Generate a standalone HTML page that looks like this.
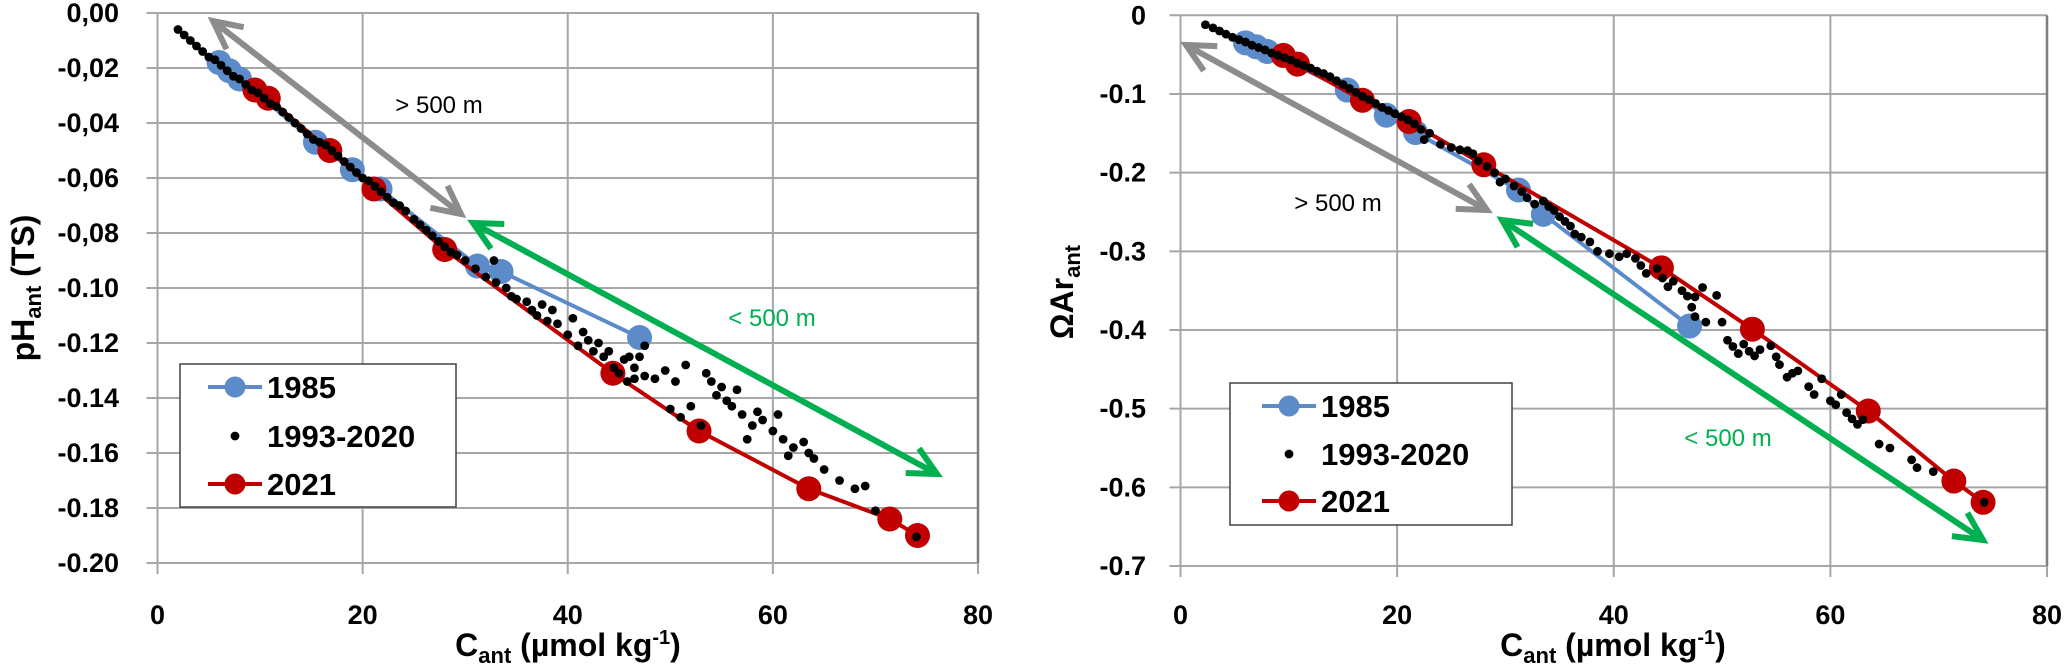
<!DOCTYPE html>
<html><head><meta charset="utf-8"><style>
html,body{margin:0;padding:0;background:#fff;}
svg{display:block;font-family:"Liberation Sans",Arial,sans-serif;}
</style></head><body>
<svg id="root" width="2067" height="671" viewBox="0 0 2067 671">
<g id="left"></g>
<g id="right"></g>
</svg>
<script>
const cantRed = [9.5,10.8,16.8,21.1,28.0,44.4,52.8,63.5,71.4,74.1];
const phRed = [-0.028,-0.031,-0.050,-0.064,-0.086,-0.131,-0.152,-0.173,-0.184,-0.190];
const omRed = [-0.051,-0.062,-0.108,-0.135,-0.190,-0.321,-0.399,-0.503,-0.592,-0.619];
const cantBlue = [6.0,7.0,8.0,15.4,19.0,21.7,31.2,33.5,47.0];
const phBlue = [-0.018,-0.021,-0.024,-0.047,-0.057,-0.064,-0.092,-0.094,-0.118];
const omBlue = [-0.035,-0.040,-0.046,-0.095,-0.127,-0.149,-0.222,-0.253,-0.395];
const phDotX = [2.0,2.6,3.2,3.8,4.4,5.0,5.6,6.2,6.8,7.4,8.0,8.6,9.2,9.8,10.4,11.0,11.6,12.2,12.8,13.4,14.0,14.6,15.2,15.8,16.4,17.0,17.6,18.2,18.8,19.4,20.0,20.6,21.2,21.8,22.4,23.0,23.6,24.2,25.0,25.6,26.2,26.8,27.4,28.0,28.6,29.2,30.0,31.0,32.0,32.8,33.0,34,34.5,35,36,36.5,37,37.5,38,38.5,39,40,40.5,41,41.5,42,42.5,43,43.5,44,44.5,45,45.5,46,46.5,47,47.5,45.8,46.5,47.5,48.5,49.5,50.5,51.5,52,53.5,54,54.5,55,55.5,56,56.5,57,58,58.5,59,60,60.5,61,62,63,63.5,64,65,66.5,68,69,70,74,53,51,50,57.5,61.5];
const phDotY = [-0.006,-0.008,-0.010,-0.012,-0.014,-0.016,-0.017,-0.019,-0.021,-0.023,-0.024,-0.026,-0.028,-0.029,-0.031,-0.033,-0.034,-0.036,-0.038,-0.040,-0.042,-0.044,-0.046,-0.047,-0.048,-0.050,-0.052,-0.054,-0.056,-0.058,-0.060,-0.061,-0.063,-0.065,-0.067,-0.069,-0.070,-0.072,-0.075,-0.077,-0.079,-0.081,-0.083,-0.085,-0.087,-0.088,-0.090,-0.093,-0.096,-0.090,-0.098,-0.100,-0.103,-0.104,-0.105,-0.108,-0.110,-0.106,-0.112,-0.108,-0.113,-0.117,-0.111,-0.121,-0.116,-0.119,-0.123,-0.120,-0.125,-0.123,-0.129,-0.131,-0.126,-0.125,-0.129,-0.125,-0.121,-0.134,-0.133,-0.132,-0.133,-0.130,-0.134,-0.128,-0.143,-0.131,-0.134,-0.139,-0.136,-0.141,-0.143,-0.137,-0.146,-0.150,-0.145,-0.148,-0.152,-0.146,-0.155,-0.158,-0.156,-0.160,-0.162,-0.166,-0.170,-0.173,-0.172,-0.181,-0.1905,-0.150,-0.147,-0.144,-0.155,-0.161];
const omDotX = [2.3,3,3.6,4.2,4.8,5.4,6,6.6,7.2,7.8,8.4,9,9.6,10.2,10.8,11.4,12,12.6,13.2,13.8,14.4,15,15.6,16.2,16.8,17.4,18,18.6,19.2,19.8,20.4,21,21.6,22.2,22.5,23,24,25,25.8,26.5,27,27.5,28.3,29,29.5,30,30.8,31.5,32,32.7,33.5,34,34.5,35,35.5,36,36.4,37,37.8,38.5,39.6,40.5,41.2,42,42.5,43,44,44.5,45,45.5,46.3,46.8,47.5,48.2,47.2,47.5,48.5,49.5,50,50.5,51,51.5,52,52.5,53,53.5,54.5,55,55.3,56,56.5,57,58,58.5,59.2,60,60.5,61,61.5,62,62.5,63,64.5,65.5,67.5,68,69.5,74.2];
const omDotY = [-0.012,-0.016,-0.020,-0.024,-0.028,-0.031,-0.034,-0.038,-0.041,-0.044,-0.048,-0.051,-0.054,-0.057,-0.061,-0.064,-0.067,-0.071,-0.074,-0.078,-0.083,-0.088,-0.093,-0.098,-0.103,-0.107,-0.112,-0.117,-0.121,-0.125,-0.129,-0.133,-0.138,-0.145,-0.158,-0.150,-0.164,-0.168,-0.171,-0.172,-0.176,-0.185,-0.192,-0.200,-0.212,-0.208,-0.217,-0.224,-0.232,-0.240,-0.236,-0.243,-0.248,-0.256,-0.262,-0.268,-0.278,-0.282,-0.288,-0.300,-0.303,-0.307,-0.303,-0.309,-0.318,-0.328,-0.322,-0.334,-0.345,-0.338,-0.350,-0.357,-0.358,-0.346,-0.371,-0.383,-0.390,-0.356,-0.390,-0.413,-0.421,-0.430,-0.418,-0.427,-0.433,-0.425,-0.420,-0.434,-0.444,-0.460,-0.455,-0.452,-0.472,-0.482,-0.462,-0.490,-0.495,-0.482,-0.505,-0.513,-0.520,-0.514,-0.545,-0.550,-0.565,-0.575,-0.580,-0.619];
const xTicks = [0,20,40,60,80];
const phTickVals = [0,-0.02,-0.04,-0.06,-0.08,-0.10,-0.12,-0.14,-0.16,-0.18,-0.20];
const phTickLabels = ["0,00","-0,02","-0,04","-0,06","-0,08","-0.10","-0.12","-0.14","-0.16","-0.18","-0.20"];
const omTickVals = [0,-0.1,-0.2,-0.3,-0.4,-0.5,-0.6,-0.7];
const omTickLabels = ["0","-0.1","-0.2","-0.3","-0.4","-0.5","-0.6","-0.7"];

const NS="http://www.w3.org/2000/svg";
function mk(parent,tag,attrs,text){const e=document.createElementNS(NS,tag);for(const k in attrs)e.setAttribute(k,attrs[k]);if(text!==undefined)e.textContent=text;parent.appendChild(e);return e;}

function chart(g,cfg){
  const X=v=>cfg.x0+(v-0)*(cfg.x1-cfg.x0)/80;
  const Y=v=>cfg.y0+(v-cfg.ymax)*(cfg.y1-cfg.y0)/(cfg.ymin-cfg.ymax);
  const bg=mk(g,'rect',{x:X(0),y:Y(cfg.ymax),width:X(80)-X(0),height:Y(cfg.ymin)-Y(cfg.ymax),fill:'#fff',stroke:'none'});
  
  
  cfg.yTicks.forEach((v,i)=>{
    const l=mk(g,'line',{x1:X(0)-11,x2:X(80),y1:Y(v),y2:Y(v),stroke:'#a6a6a6','stroke-width':2});
    
    
    const t=mk(g,'text',{x:cfg.ylabX,y:Y(v)+9,'text-anchor':'end','font-size':27,'font-weight':'bold',fill:'#000'},cfg.yLabels[i]);
    
    
  });
  xTicks.forEach(v=>{
    const l=mk(g,'line',{x1:X(v),x2:X(v),y1:Y(cfg.ymax),y2:Y(cfg.ymin)+11,stroke:'#a6a6a6','stroke-width':2});
    
    
    const t=mk(g,'text',{x:X(v),y:cfg.xlabY,'text-anchor':'middle','font-size':27,'font-weight':'bold',fill:'#000'},String(v));
    
    
  });
  const rb=mk(g,'line',{x1:X(80),x2:X(80),y1:Y(cfg.ymax),y2:Y(cfg.ymin),stroke:'#7f7f7f','stroke-width':2.5});
  
  
  const by=cfg.blueY, ry=cfg.redY;
  const bl=mk(g,'polyline',{points:cantBlue.map((c,i)=>X(c)+','+Y(by[i])).join(' '),fill:'none',stroke:'#5b8bc9','stroke-width':4});
  
  
  cantBlue.forEach((c,i)=>{const m=mk(g,'circle',{cx:X(c),cy:Y(by[i]),r:12.5,fill:'#5b8bc9'});
    
    });
  const rl=mk(g,'polyline',{points:cantRed.map((c,i)=>X(c)+','+Y(ry[i])).join(' '),fill:'none',stroke:'#c00000','stroke-width':4});
  
  
  cantRed.forEach((c,i)=>{const m=mk(g,'circle',{cx:X(c),cy:Y(ry[i]),r:12.5,fill:'#c00000'});
    
    });
  cfg.dotX.forEach((c,i)=>{const m=mk(g,'circle',{cx:X(c),cy:Y(cfg.dotY[i]),r:4.4,fill:'#000'});
    
    });
  cfg.arrows.forEach(a=>{
    const ag=mk(g,'g',{});
    
    
    mk(ag,'line',{x1:a.p[0],y1:a.p[1],x2:a.p[2],y2:a.p[3],stroke:a.c,'stroke-width':6});
    const dx=a.p[2]-a.p[0],dy=a.p[3]-a.p[1],L=Math.hypot(dx,dy),ux=dx/L,uy=dy/L;
    [[a.p[0],a.p[1],1],[a.p[2],a.p[3],-1]].forEach(([tx,ty,s])=>{
      const h=28,w=14;
      const bx=tx+s*ux*h,by2=ty+s*uy*h;
      mk(ag,'polyline',{points:(bx-uy*w)+','+(by2+ux*w)+' '+tx+','+ty+' '+(bx+uy*w)+','+(by2-ux*w),fill:'none',stroke:a.c,'stroke-width':6,'stroke-linejoin':'miter'});
    });
    const t=mk(g,'text',{x:a.tx,y:a.ty,'text-anchor':'middle','font-size':24,fill:a.tc},a.label);
    
    
  });
  const L=cfg.leg;
  const lg=mk(g,'g',{});
  
  
  mk(lg,'rect',{x:L.x,y:L.y,width:L.w,height:L.h,fill:'#fff',stroke:'#404040','stroke-width':1.5});
  const ents=[['1985','#5b8bc9',true],['1993-2020','#000',false],['2021','#c00000',true]];
  ents.forEach((e,i)=>{
    const eg=mk(lg,'g',{});
    
    
    const cy=L.ey[i];
    if(e[2]){mk(eg,'line',{x1:L.mx-27,x2:L.mx+27,y1:cy,y2:cy,stroke:e[1],'stroke-width':4});
      mk(eg,'circle',{cx:L.mx,cy:cy,r:10.5,fill:e[1]});}
    else mk(eg,'circle',{cx:L.mx,cy:cy,r:4.4,fill:'#000'});
    mk(eg,'text',{x:L.tx,y:cy+11,'font-size':31,'font-weight':'bold',fill:'#000'},e[0]);
  });
}

const left=document.getElementById('left');
chart(left,{x0:157.5,x1:978,y0:13,y1:563,ymax:0,ymin:-0.20,yTicks:phTickVals,yLabels:phTickLabels,ylabX:119,xlabY:624,
  blueY:phBlue,redY:phRed,dotX:phDotX,dotY:phDotY,
  arrows:[{name:'deep-arrow',p:[213,21,461,214],c:'#8c8c8c',label:'> 500 m',tx:439,ty:113,tc:'#000'},
          {name:'shallow-arrow',p:[473,223,937,474],c:'#00b050',label:'< 500 m',tx:772,ty:326,tc:'#00b050'}],
  leg:{x:180,y:364,w:276,h:143,ey:[387,436,484],mx:235,tx:267}});
const right=document.getElementById('right');
chart(right,{x0:1180.5,x1:2047,y0:15.3,y1:566,ymax:0,ymin:-0.7,yTicks:omTickVals,yLabels:omTickLabels,ylabX:1146,xlabY:624,
  blueY:omBlue,redY:omRed,dotX:omDotX,dotY:omDotY,
  arrows:[{name:'deep-arrow',p:[1186,45,1487,210],c:'#8c8c8c',label:'> 500 m',tx:1338,ty:211,tc:'#000'},
          {name:'shallow-arrow',p:[1502,220,1983,540],c:'#00b050',label:'< 500 m',tx:1728,ty:446,tc:'#00b050'}],
  leg:{x:1230,y:383,w:282,h:142,ey:[406,454,501],mx:1289,tx:1321}});

const root=document.getElementById('root');
function title(x,y,rot,parts,name){
  const t=mk(root,'text',{x:x,y:y,'text-anchor':'middle','font-size':32,'font-weight':'bold',fill:'#000',transform:rot?`rotate(-90 ${x} ${y})`:''});
  
  
  parts.forEach(p=>{mk(t,'tspan',p.a||{},p.t);});
}
title(568,656,false,[{t:'C'},{t:'ant',a:{'font-size':22,dy:7}},{t:' (µmol kg',a:{dy:-7}},{t:'-1',a:{'font-size':20,dy:-12}},{t:')',a:{dy:12}}],'x-axis-title-left');
title(1613,656,false,[{t:'C'},{t:'ant',a:{'font-size':22,dy:7}},{t:' (µmol kg',a:{dy:-7}},{t:'-1',a:{'font-size':20,dy:-12}},{t:')',a:{dy:12}}],'x-axis-title-right');
title(34,288,true,[{t:'pH'},{t:'ant',a:{'font-size':22,dy:7}},{t:' (TS)',a:{dy:-7}}],'y-axis-title-left');
title(1073,292,true,[{t:'ΩAr'},{t:'ant',a:{'font-size':22,dy:7}}],'y-axis-title-right');
</script>
</body></html>
